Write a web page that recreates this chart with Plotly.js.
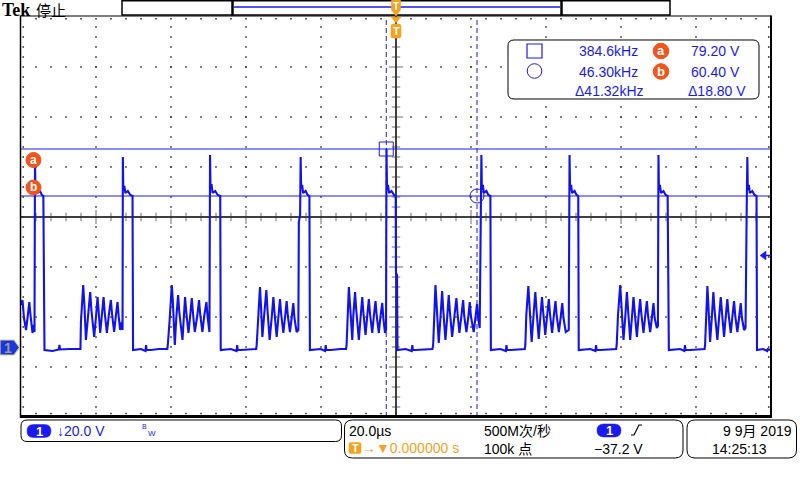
<!DOCTYPE html>
<html><head><meta charset="utf-8">
<script src="https://cdn.plot.ly/plotly-3.0.1.min.js"></script>
<style>body{margin:0;background:#fff}#chart{width:800px;height:480px}</style>
</head><body><div id="chart"></div>
<script>
// ---------- Channel 1 waveform (time in µs, voltage in V) ----------
const leadT = [-100.00,-99.60,-99.20,-98.66,-98.26,-97.79,-97.47,-96.93,-96.59,-96.40];
const leadV = [16.8,18.8,11.6,6.8,11.6,18.0,12.8,5.6,8.8,6.0];
const cyc0T = [-96.27,-96.14,-95.87,-95.60,-94.94,-94.41,-94.04,-93.90,-93.74,-91.6,-89.9,-89.75,-89.6,-87.0,-84.15,
 -84.02,-83.68,-83.41,-83.09,-82.69,-82.16,-81.55,-81.23,-80.48,-80.03,-79.58,-79.28,-78.88,-78.43,-77.98,-77.69,-77.10,-76.57,-76.04,-75.72,-75.16,-74.71,-74.26,-73.96,-73.56,-73.11,-72.92];
const cyc0V = [74.8,62.8,64.4,61.6,62.4,60.8,60.4,-1.2,-1.2,-1.6,-1.0,0.8,-1.0,-0.8,-0.8,
 10.0,18.8,24.8,16.8,2.8,11.6,22.0,14.8,4.0,11.6,20.0,14.0,5.6,12.8,20.0,14.0,5.6,12.8,18.8,13.2,6.0,12.4,18.0,12.4,6.8,10.0,6.8];
const cyc1T = [-72.84,-72.71,-72.44,-72.18,-71.51,-70.84,-70.26,-70.12,-68.04,-66.8,-66.65,-66.5,-65.38,-63.25,-60.98,
 -60.85,-60.40,-60.05,-59.79,-59.52,-58.99,-58.59,-58.11,-57.79,-56.94,-56.59,-56.25,-55.93,-55.34,-54.86,-54.46,-54.12,-53.66,-53.00,-52.52,-52.20,-51.62,-51.14,-50.55,-50.21,-49.75];
const cyc1V = [76.0,62.8,64.4,61.6,62.4,60.8,60.4,-1.2,-0.8,-1.6,0.8,-1.2,-1.2,-0.8,-0.8,
 0.8,10.0,18.8,24.8,18.8,0.8,11.6,20.8,14.0,2.8,11.6,20.0,14.0,5.6,12.8,19.6,13.2,6.0,12.4,18.8,12.8,6.0,12.4,18.0,11.6,6.0];
const cyc2T = [-49.59,-49.46,-49.19,-48.93,-48.21,-47.54,-46.87,-46.74,-44.07,-42.5,-42.35,-42.2,-41.41,-38.75,-37.28,
 -37.15,-36.75,-36.27,-36.01,-35.63,-35.15,-34.57,-34.27,-33.69,-33.16,-32.70,-32.41,-31.82,-31.34,-30.94,-30.62,-30.04,-29.56,-29.16,-28.84,-28.28,-27.83,-27.38,-27.08,-26.50,-26.04,-25.91,-25.57];
const cyc2V = [76.8,63.6,65.2,61.6,62.4,60.8,60.4,-1.2,-0.8,-1.6,0.8,-1.2,-1.2,-0.8,-0.8,
 0.8,12.8,24.0,16.8,4.0,12.8,22.8,14.8,2.8,11.6,20.0,14.0,4.0,12.4,19.2,13.2,5.6,12.4,18.4,12.4,6.0,11.6,17.6,11.6,6.0,6.8,50.0,52.8];
const cyc3T = [-25.43,-25.30,-25.03,-24.77,-24.10,-23.57,-23.09,-22.96,-20.11,-18.9,-18.75,-18.6,-17.44,-14.78,-13.32,
 -13.18,-12.92,-12.57,-12.25,-11.66,-11.37,-10.92,-10.60,-9.91,-9.45,-9.00,-8.71,-8.12,-7.67,-7.24,-6.92,-6.34,-5.91,-5.46,-5.14,-4.58,-4.13,-3.67,-3.38,-2.93,-2.66];
const cyc3V = [76.0,63.6,64.8,61.6,62.4,60.8,60.4,-1.2,-0.8,-1.6,0.8,-1.2,-1.2,-0.8,-0.8,
 0.8,14.8,24.0,16.8,2.8,12.8,22.0,14.8,2.8,11.6,20.0,14.0,4.8,12.4,19.2,13.2,5.6,12.4,18.4,12.4,5.6,12.4,17.6,11.6,5.6,6.8];
const cyc4T = [-2.53,-2.40,-2.13,-1.86,-1.20,-0.53,-0.08,0.00,0.27,0.40,2.53,4.2,4.35,4.5,5.19,7.86,9.72,
 9.91,10.12,10.52,10.84,11.40,11.85,12.30,12.60,13.18,13.64,14.06,14.38,14.97,15.58,16.11,16.43,16.91,17.44,17.90,18.19,18.78,19.26,19.66,19.97,20.72,21.17,21.62,21.92,22.32];
const cyc4V = [79.2,63.6,64.8,61.6,62.4,60.8,60.4,29.6,28.8,-1.2,-0.8,-1.6,0.8,-1.2,-1.2,-0.8,-0.8,
 0.8,12.0,24.8,16.8,1.6,11.6,22.4,14.8,2.8,11.6,20.8,14.0,4.0,12.4,19.6,13.2,5.6,12.4,18.8,12.4,6.0,11.6,18.0,12.4,6.0,11.6,17.2,11.6,7.6];
const cyc5T = [22.77,22.90,23.17,23.44,24.10,24.63,25.17,25.30,27.83,29.3,29.45,29.6,30.49,33.16,34.35,
 34.49,34.75,35.29,35.61,36.17,36.62,37.15,37.47,38.06,38.48,38.93,39.25,39.81,40.29,40.75,41.07,41.63,42.08,42.53,42.85,43.44,43.89,44.34,44.66,45.27,46.07];
const cyc5V = [76.8,62.8,64.8,61.6,62.4,60.8,60.4,-1.2,-0.8,-1.6,0.8,-1.2,-1.2,-0.8,-0.8,
 0.8,12.8,24.4,16.8,2.0,11.6,22.0,14.8,3.2,11.6,20.0,14.0,4.8,12.4,19.2,13.2,5.6,12.4,18.4,12.4,6.0,11.6,17.6,11.6,6.0,6.8];
const cyc6T = [46.28,46.42,46.69,46.95,47.62,48.15,48.60,48.73,51.80,53.2,53.35,53.5,54.46,57.12,58.72,
 58.85,59.20,59.79,60.11,60.67,61.12,61.57,61.89,62.45,62.90,63.33,63.65,64.24,64.69,65.11,65.43,66.00,66.45,66.90,67.22,67.78,68.23,68.66,68.98,69.56,69.85];
const cyc6V = [76.8,62.8,64.8,61.6,62.4,60.8,60.4,-1.2,-0.8,-1.6,0.8,-1.2,-1.2,-0.8,-0.8,
 0.8,12.8,24.8,16.8,2.8,11.6,22.0,14.8,2.8,11.6,20.0,14.0,4.0,12.4,19.2,13.2,5.6,12.4,18.4,12.4,6.0,11.6,17.6,11.6,7.6,8.4];
const cyc7T = [69.99,70.12,70.39,70.65,71.32,71.91,72.44,72.52,72.65,72.76,75.77,76.9,77.05,77.2,78.43,81.09,82.29,
 82.42,82.69,83.04,83.30,83.76,84.21,84.63,84.95,85.70,86.15,86.60,86.92,87.48,87.94,88.36,88.68,89.27,89.72,90.15,90.47,91.03,91.48,91.93,92.25,92.81,93.21,93.34,93.53];
const cyc7V = [76.8,62.8,64.8,61.6,62.4,60.8,60.4,47.6,44.8,-1.2,-0.8,-1.6,0.8,-1.2,-1.2,-0.8,-0.8,
 0.8,12.8,24.4,16.8,2.0,11.6,22.0,14.8,2.8,11.6,20.0,14.0,4.0,12.4,19.2,13.2,5.6,12.4,18.4,12.4,6.0,11.6,17.6,11.6,6.8,7.6,52.8,56.8];
const cyc8T = [93.69,93.82,94.09,94.35,95.02,95.60,96.14,96.27,97.87,99.0,99.15,100.0];
const cyc8V = [76.0,62.8,64.8,61.6,62.4,60.8,60.4,-1.2,-0.8,-1.6,-0.8,-1.2];

// cursors (µs / V) and readouts
const cursorT = [-2.6, 21.6];
const cursorV = [79.2, 60.4];
const freqText = ['384.6kHz','46.30kHz','Δ41.32kHz'];
const voltText = ['79.20 V','60.40 V','Δ18.80 V'];

// ---------- geometry helpers (pixel -> paper) ----------
const L=21,R=771,T=16,B=417;
const px=x=>(x-L)/(R-L), py=y=>(B-y)/(B-T);
const P=(x,y)=>px(x).toFixed(5)+','+py(y).toFixed(5);
function rr(x0,y0,x1,y1,r){
  return `M${P(x0+r,y0)} L${P(x1-r,y0)} Q${P(x1,y0)} ${P(x1,y0+r)} L${P(x1,y1-r)} Q${P(x1,y1)} ${P(x1-r,y1)} L${P(x0+r,y1)} Q${P(x0,y1)} ${P(x0,y1-r)} L${P(x0,y0+r)} Q${P(x0,y0)} ${P(x0+r,y0)} Z`;
}
function poly(pts){return 'M'+pts.map(p=>P(p[0],p[1])).join(' L')+' Z';}
function pathShape(d,fill,line,lw){return {type:'path',xref:'paper',yref:'paper',path:d,fillcolor:fill||'rgba(0,0,0,0)',line:{color:line||'rgba(0,0,0,0)',width:lw||0},layer:'above'};}
function lineShape(x0,y0,x1,y1,color,w,dash){return {type:'line',xref:'paper',yref:'paper',x0:px(x0),y0:py(y0),x1:px(x1),y1:py(y1),line:{color:color,width:w,dash:dash||'solid'},layer:'above'};}
function circ(cx,cy,r,fill,line){return {type:'circle',xref:'paper',yref:'paper',x0:px(cx-r),x1:px(cx+r),y0:py(cy+r),y1:py(cy-r),fillcolor:fill,line:{color:line||fill,width:1},layer:'above'};}
function ann(text,x,y,anchor,font){return {text:text,xref:'paper',yref:'paper',x:px(x),y:py(y),xanchor:anchor,yanchor:'middle',showarrow:false,font:font,borderpad:0};}

const BLUE='#1a1af0', ORANGE='#f5a21e', RED='#f2541b';
const F = 'Liberation Sans, Noto Sans CJK SC, DejaVu Sans';

// ---------- waveform ----------
const waveT = [].concat(leadT,cyc0T,cyc1T,cyc2T,cyc3T,cyc4T,cyc5T,cyc6T,cyc7T,cyc8T);
const waveV = [].concat(leadV,cyc0V,cyc1V,cyc2V,cyc3V,cyc4V,cyc5V,cyc6V,cyc7V,cyc8V);

// ---------- graticule (decoration) ----------
const CENTER_V = 52.0;
const gx=[], gy=[];
[-80,-60,-40,-20,20,40,60,80].forEach(t=>{for(let v=CENTER_V+76;v>-28;v-=4){gx.push(t);gy.push(v);}});
[112,92,72,32,12,-8].forEach(v=>{for(let t=-96;t<=96;t+=4){if(t!==0){gx.push(t);gy.push(v);}}});
for(let v=CENTER_V+76;v>-28;v-=4){gx.push(-99.4);gy.push(v);gx.push(99.4);gy.push(v);}
for(let t=-96;t<=96;t+=4){gx.push(t);gy.push(131.3);gx.push(t);gy.push(-26.6);}
const hx=[],hy=[],hs=[];
for(let t=-96;t<=96;t+=4){if(t!==0){hx.push(t);hy.push(CENTER_V);hs.push(t%20===0?10:6);}}
const vx=[],vy=[],vs=[];
for(let v=CENTER_V+76;v>-28;v-=4){if(Math.abs(v-CENTER_V)>0.1){vx.push(0);vy.push(v);vs.push(Math.abs((v-CENTER_V)%20)<0.1?10:6);}}

const traces = [
 {x:gx,y:gy,mode:'markers',type:'scatter',marker:{symbol:'square',size:1.6,color:'#333'},cliponaxis:false,hoverinfo:'skip'},
 {x:hx,y:hy,mode:'markers',type:'scatter',marker:{symbol:'line-ns',size:hs,line:{color:'#333',width:1}},hoverinfo:'skip'},
 {x:vx,y:vy,mode:'markers',type:'scatter',marker:{symbol:'line-ew',size:vs,line:{color:'#333',width:1}},hoverinfo:'skip'},
 {x:waveT,y:waveV,mode:'lines',type:'scatter',line:{color:'#1212ee',width:2.1},hoverinfo:'skip'},
 {x:[cursorT[0]],y:[cursorV[0]],mode:'markers',type:'scatter',marker:{symbol:'square-open',size:14,color:BLUE,line:{width:1,color:BLUE}},hoverinfo:'skip'},
 {x:[cursorT[1]],y:[cursorV[1]],mode:'markers',type:'scatter',marker:{symbol:'circle-open',size:14,color:BLUE,line:{width:1,color:BLUE}},hoverinfo:'skip'}
];

const shapes = [
 {type:'line',xref:'x',yref:'y',x0:-100,x1:100,y0:CENTER_V,y1:CENTER_V,line:{color:'#000',width:1.5},layer:'below'},
 {type:'line',xref:'x',yref:'paper',x0:0,x1:0,y0:0,y1:1,line:{color:'#000',width:1.5},layer:'below'},
 {type:'line',xref:'x',yref:'y',x0:-100,x1:100,y0:cursorV[0],y1:cursorV[0],line:{color:BLUE,width:1},layer:'below'},
 {type:'line',xref:'x',yref:'y',x0:-100,x1:100,y0:cursorV[1],y1:cursorV[1],line:{color:BLUE,width:1},layer:'below'},
 {type:'line',xref:'x',yref:'paper',x0:cursorT[0],x1:cursorT[0],y0:0,y1:0.995,line:{color:BLUE,width:1,dash:'5px,3px'},layer:'below'},
 {type:'line',xref:'x',yref:'paper',x0:cursorT[1],x1:cursorT[1],y0:0,y1:0.995,line:{color:BLUE,width:1,dash:'5px,3px'},layer:'below'},
 lineShape(20.5,16,771,16,'#000',1.2),
 lineShape(20.5,15.5,20.5,418,'#000',1.5),
 lineShape(771,15.5,771,418,'#000',2),
 lineShape(20,416.5,772,416.5,'#000',3),
 pathShape(poly([[122,0.8],[670,0.8],[670,15],[122,15]]),null,'#000',1.5),
 lineShape(232.5,0,232.5,15.5,'#000',2.5),
 lineShape(561.5,0,561.5,15.5,'#000',2.5),
 lineShape(234,7,560,7,BLUE,1.5),
 pathShape(poly([[391.5,0],[400.5,0],[400.5,10],[396,16],[391.5,10]]),ORANGE,ORANGE,0.5),
 pathShape(poly([[391,17],[401,17],[396,23]]),ORANGE,ORANGE,0.5),
 pathShape(rr(391,24,401,38,2),ORANGE,ORANGE,0.5),
 pathShape(poly([[760,255.5],[766,251],[766,260]]),BLUE,BLUE,0.5),
 lineShape(766,255.5,771,255.5,BLUE,1.5),
 pathShape(poly([[0,340],[14,340],[19.5,347.5],[14,355],[0,355]]),'#1a36dc','#d6cc9a',1.2),
 circ(33.5,160,7.5,RED), circ(33.5,187.5,7.5,RED),
 pathShape(rr(508,40,759,99,6),'#fff','#000',1),
 pathShape(poly([[527,44],[542,44],[542,58],[527,58]]),null,BLUE,1.2),
 circ(534.5,71,7.3,'rgba(0,0,0,0)',BLUE),
 circ(661,51,7.8,RED), circ(661,71.5,7.8,RED),
 pathShape(rr(21,420,341.5,441.5,6),null,'#000',1),
 pathShape(rr(344.5,420,683,458,8),null,'#000',1),
 pathShape(rr(687,420,796.5,458,8),null,'#000',1),
 pathShape(rr(27,424.5,51,437.5,6.5),BLUE,BLUE,0.5),
 pathShape(rr(597,424,621,437,6.5),BLUE,BLUE,0.5),
 pathShape(rr(349,442.5,361,453.5,1.5),ORANGE,ORANGE,0.5),
 {type:'path',xref:'paper',yref:'paper',path:'M'+P(631,435)+' L'+P(634,435)+' L'+P(639,425)+' L'+P(642,425),line:{color:'#000',width:1.2},layer:'above'}
];

const annotations = [
 ann('<b>Tek</b>',1,9.5,'left',{family:'Liberation Serif, DejaVu Serif',size:18,color:'#000'}),
 ann('停止',35,9.5,'left',{family:'Noto Sans CJK SC',size:15,color:'#000'}),
 ann('<b>T</b>',396,6.5,'center',{family:F,size:10,color:'#fff'}),
 ann('<b>T</b>',396,31,'center',{family:F,size:11,color:'#fff'}),
 ann('<b>a</b>',33.5,159.5,'center',{family:F,size:12,color:'#fff'}),
 ann('<b>b</b>',33.5,187,'center',{family:F,size:12,color:'#fff'}),
 ann('<b>1</b>',8,347.5,'center',{family:F,size:14,color:'#9c9c8a'}),
 ann(freqText[0],639,51.5,'right',{family:F,size:14,color:BLUE}),
 ann(freqText[1],639,71.5,'right',{family:F,size:14,color:BLUE}),
 ann(freqText[2],645,91,'right',{family:F,size:14,color:BLUE}),
 ann(voltText[0],741,51.5,'right',{family:F,size:14,color:BLUE}),
 ann(voltText[1],741,71.5,'right',{family:F,size:14,color:BLUE}),
 ann(voltText[2],747,91,'right',{family:F,size:14,color:BLUE}),
 ann('<b>a</b>',661,50.5,'center',{family:F,size:13,color:'#fff'}),
 ann('<b>b</b>',661,71,'center',{family:F,size:13,color:'#fff'}),
 ann('<b>1</b>',39,431,'center',{family:F,size:13,color:'#fff'}),
 ann('↓20.0 V',56,431,'left',{family:F,size:14,color:BLUE}),
 ann('B',144.5,426.5,'center',{family:F,size:7,color:BLUE}),
 ann('W',151.5,434,'center',{family:F,size:8,color:BLUE}),
 ann('20.0µs',348,430.5,'left',{family:F,size:14,color:'#000'}),
 ann('<b>T</b>',355,448,'center',{family:F,size:11,color:'#fff'}),
 ann('→▼0.000000 s',361,448,'left',{family:F,size:14,color:ORANGE}),
 ann('500M次/秒',483,430.5,'left',{family:F,size:14,color:'#000'}),
 ann('100k 点',483,448.5,'left',{family:F,size:14,color:'#000'}),
 ann('<b>1</b>',609,430.5,'center',{family:F,size:13,color:'#fff'}),
 ann('−37.2 V',593,448.5,'left',{family:F,size:14,color:'#000'}),
 ann('9 9月 2019',793,430.5,'right',{family:F,size:14,color:'#000'}),
 ann('14:25:13',711,448.5,'left',{family:F,size:14,color:'#000'})
];

const layout = {
 width:800,height:480,
 margin:{l:L,r:800-R,t:T,b:480-B,pad:0},
 paper_bgcolor:'#fff',plot_bgcolor:'#fff',
 showlegend:false,
 xaxis:{range:[-100,100],showgrid:false,zeroline:false,showticklabels:false,ticks:'',showline:false,fixedrange:true},
 yaxis:{range:[-28,132.4],showgrid:false,zeroline:false,showticklabels:false,ticks:'',showline:false,fixedrange:true},
 shapes:shapes,
 annotations:annotations,
 font:{family:F}
};
Plotly.newPlot('chart',traces,layout,{staticPlot:true,displayModeBar:false});
</script>
</body></html>
